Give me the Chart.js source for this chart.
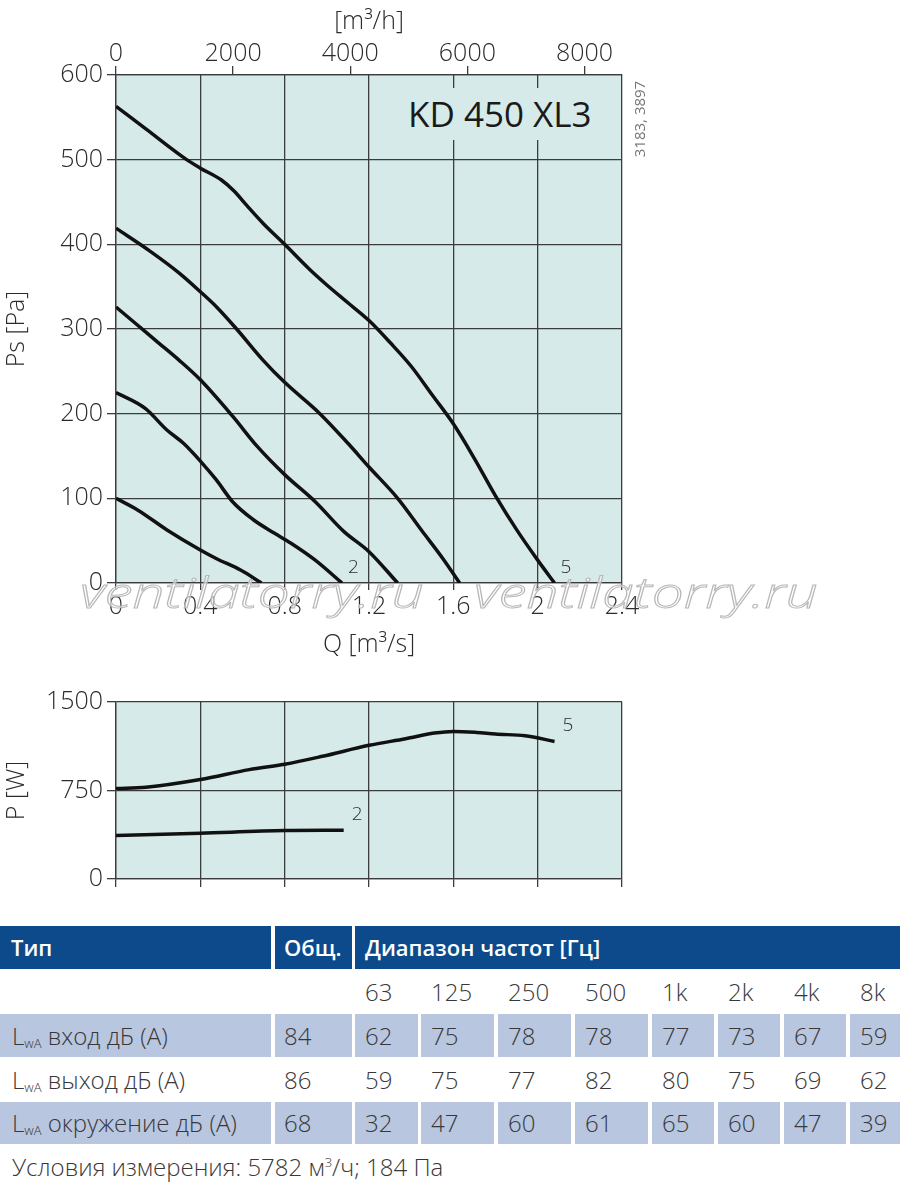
<!DOCTYPE html>
<html>
<head>
<meta charset="utf-8">
<script src="https://cdn.jsdelivr.net/npm/chart.js@4.4.1/dist/chart.umd.min.js"></script>
<style>
body { margin:0; width:900px; height:1185px; background:#fff; position:relative; overflow:hidden;
       font-family:"Open Sans", sans-serif; color:#333; }
.abs { position:absolute; }
#c1 { position:absolute; left:0; top:0; }
#c2 { position:absolute; left:0; top:680px; }
#model { left:398px; top:88px; width:216px; height:52px; background:#d6ebe9; font-size:35px; font-weight:500;
         line-height:52px; color:#1a1a1a; padding-left:10px; box-sizing:border-box; white-space:nowrap; }
#code { left:590px; top:109px; width:98px; height:20px; font-size:15px; line-height:20px; color:#777;
        transform:rotate(-90deg); text-align:center; white-space:nowrap; }
.wm { top:570px; height:43px; line-height:43px; font-size:43px; font-style:italic; font-weight:300;
      color:rgba(255,255,255,0.6); -webkit-text-stroke:1px #b8b8b8; transform:scaleX(1.32);
      transform-origin:left top; white-space:nowrap; }
.cell { position:absolute; box-sizing:border-box; font-size:24px; font-weight:300; color:#383838;
        padding-left:10px; white-space:nowrap; }
.head { background:#0d4a8b; color:#fff; font-weight:600; font-size:22px; }
.shade { background:#b9c6e0; }
sub { font-size:13px; vertical-align:-3px; line-height:0; }
sup { font-size:13px; line-height:0; }
</style>
</head>
<body>
<canvas id="c1" width="680" height="665"></canvas>
<canvas id="c2" width="680" height="220"></canvas>
<div id="model" class="abs">KD 450 XL3</div>
<div id="code" class="abs">3183, 3897</div>
<div class="abs wm" style="left:80px">ventilatorry.ru</div>
<div class="abs wm" style="left:474px">ventilatorry.ru</div>
<div id="table"></div>
<script>
// axis ticks
const qTicks = [0, 0.4, 0.8, 1.2, 1.6, 2, 2.4];
const flowTicks = [0, 2000, 4000, 6000, 8000];
const psTicks = [0, 100, 200, 300, 400, 500, 600];
const powerTicks = [0, 750, 1500];

// static pressure curves, Q [m3/s] -> Ps [Pa]
const ps1Q = [0, 0.104, 0.24, 0.4, 0.475, 0.593, 0.69];
const ps1 = [100, 86, 63, 39, 29, 15, 0];
const ps2Q = [0, 0.14, 0.24, 0.32, 0.4, 0.475, 0.553, 0.65, 0.75, 0.83, 0.945, 1.072];
const ps2 = [225, 206, 181, 165, 144, 122, 96, 75, 59, 47, 27, 0];
const ps3Q = [0, 0.1, 0.2, 0.3, 0.4, 0.553, 0.671, 0.8, 0.945, 1.08, 1.2, 1.336];
const ps3 = [326, 305, 284, 263, 240, 197, 161, 128, 96, 61, 37, 0];
const ps4Q = [0, 0.161, 0.3, 0.4, 0.477, 0.572, 0.698, 0.8, 0.967, 1.1, 1.2, 1.336, 1.45, 1.55, 1.63];
const ps4 = [419, 392, 366, 344, 326, 300, 263, 237, 200, 165, 137, 100, 62, 29, 0];
const ps5Q = [0, 0.143, 0.335, 0.4, 0.5, 0.56, 0.62, 0.697, 0.8, 0.92, 1.0, 1.1, 1.2, 1.3, 1.4, 1.5, 1.6,
              1.7, 1.8, 1.9, 2.0, 2.08];
const ps5 = [563, 536, 500, 490, 476, 463, 446, 425, 400, 370, 352, 331, 310, 284, 256, 222, 188,
             147, 103, 63, 27, 0];

// power curves, Q [m3/s] -> P [W]
const pw2Q = [0, 0.4, 0.8, 1.08];
const pw2 = [368, 388, 410, 413];
const pw5Q = [0, 0.143, 0.4, 0.632, 0.8, 0.98, 1.2, 1.374, 1.51, 1.6, 1.71, 1.8, 1.94, 2.08];
const pw5 = [767, 778, 843, 927, 972, 1040, 1133, 1189, 1237, 1251, 1242, 1228, 1214, 1166];

// sound table
const freqLabels = ['63', '125', '250', '500', '1k', '2k', '4k', '8k'];
const rowNames = ['вход дБ (A)', 'выход дБ (A)', 'окружение дБ (A)'];
const totalLw = [84, 86, 68];
const lwInlet = [62, 75, 78, 78, 77, 73, 67, 59];
const lwOutlet = [59, 75, 77, 82, 80, 75, 69, 62];
const lwSurround = [32, 47, 60, 61, 65, 60, 47, 39];

const GRID = '#3c3c3c';
const TXT = '#2b2b2b';
const tickFont = {family: "'Open Sans', sans-serif", size: 25, weight: 300};
const tagFont = "300 19px 'Open Sans', sans-serif";

function pts(xs, ys) { return xs.map((x, i) => ({x: x, y: ys[i]})); }
function useTicks(vals) { return function(s) { s.ticks = vals.map(v => ({value: v})); }; }
function fmtQ(v) { return String(Number(v.toFixed(1))); }

function curve(xs, ys, tag) {
    return {data: pts(xs, ys), tag: tag, borderColor: '#111', borderWidth: 3.5, pointRadius: 0,
            fill: false, cubicInterpolationMode: 'monotone'};
}

const plotBg = {
    id: 'plotBg',
    beforeDraw(chart) {
        const a = chart.chartArea, ctx = chart.ctx;
        ctx.save();
        ctx.fillStyle = '#d6ebe9';
        ctx.fillRect(a.left, a.top, a.right - a.left, a.bottom - a.top);
        ctx.restore();
    }
};

// small curve numbers next to the end of a curve
const curveTags = {
    id: 'curveTags',
    afterDatasetsDraw(chart, args, opts) {
        const ctx = chart.ctx, xs = chart.scales.x, ys = chart.scales.y;
        ctx.save();
        ctx.font = tagFont;
        ctx.fillStyle = TXT;
        ctx.textBaseline = 'middle';
        chart.data.datasets.forEach(ds => {
            if (!ds.tag) return;
            const last = ds.data[ds.data.length - 1];
            ctx.fillText(ds.tag, xs.getPixelForValue(last.x) + opts.dx, ys.getPixelForValue(last.y) + opts.dy);
        });
        ctx.restore();
    }
};

function gridOpts(extra) {
    return Object.assign({color: GRID, lineWidth: 1.3, tickColor: GRID, tickWidth: 1.3}, extra);
}

Chart.defaults.font.family = "'Open Sans', sans-serif";

new Chart(document.getElementById('c1'), {
    type: 'line',
    data: {datasets: [curve(ps1Q, ps1), curve(ps2Q, ps2, '2'), curve(ps3Q, ps3),
                      curve(ps4Q, ps4), curve(ps5Q, ps5, '5')]},
    options: {
        responsive: false, animation: false, devicePixelRatio: 1,
        layout: {padding: {left: 0, right: 58, top: 0, bottom: 0}},
        plugins: {legend: {display: false}, tooltip: {enabled: false}, curveTags: {dx: 6, dy: -15}},
        scales: {
            x: {type: 'linear', position: 'bottom', min: 0, max: 2.4,
                afterBuildTicks: useTicks(qTicks), afterFit: s => { s.height = 82; },
                grid: gridOpts({tickLength: 7}), border: {color: GRID, width: 1.3},
                ticks: {font: tickFont, color: TXT, padding: 2, maxRotation: 0, callback: v => fmtQ(v)},
                title: {display: true, text: 'Q [m³/s]', font: tickFont, color: TXT, padding: {top: 0, bottom: 5}}},
            xTop: {type: 'linear', position: 'top', axis: 'x', min: 0, max: 8640,
                afterBuildTicks: useTicks(flowTicks), afterFit: s => { s.height = 75; },
                grid: gridOpts({drawOnChartArea: false, tickLength: 9}), border: {color: GRID, width: 1.3},
                ticks: {font: tickFont, color: TXT, padding: -3, maxRotation: 0, callback: v => String(v)},
                title: {display: true, text: '[m³/h]', font: tickFont, color: TXT, padding: {top: 7, bottom: 0}}},
            y: {type: 'linear', position: 'left', min: 0, max: 600,
                afterBuildTicks: useTicks(psTicks), afterFit: s => { s.width = 116; },
                grid: gridOpts({tickLength: 9}), border: {color: GRID, width: 1.3},
                ticks: {font: tickFont, color: TXT, padding: 4, callback: v => String(v)},
                title: {display: true, text: 'Ps [Pa]', font: tickFont, color: TXT, padding: {top: 2, bottom: 0}}}
        }
    },
    plugins: [plotBg, curveTags]
});

new Chart(document.getElementById('c2'), {
    type: 'line',
    data: {datasets: [curve(pw2Q, pw2, '2'), curve(pw5Q, pw5, '5')]},
    options: {
        responsive: false, animation: false, devicePixelRatio: 1,
        layout: {padding: {left: 0, right: 58, top: 22, bottom: 0}},
        plugins: {legend: {display: false}, tooltip: {enabled: false}, curveTags: {dx: 8, dy: -16}},
        scales: {
            x: {type: 'linear', position: 'bottom', min: 0, max: 2.4,
                afterBuildTicks: useTicks(qTicks), afterFit: s => { s.height = 21; },
                grid: gridOpts({tickLength: 8}), border: {color: GRID, width: 1.3},
                ticks: {display: false}},
            y: {type: 'linear', position: 'left', min: 0, max: 1500,
                afterBuildTicks: useTicks(powerTicks), afterFit: s => { s.width = 116; },
                grid: gridOpts({tickLength: 9}), border: {color: GRID, width: 1.3},
                ticks: {font: tickFont, color: TXT, padding: 4, callback: v => String(v)},
                title: {display: true, text: 'P [W]', font: tickFont, color: TXT, padding: {top: 2, bottom: 0}}}
        }
    },
    plugins: [plotBg, curveTags]
});
</script>
<script>
// sound power table, built from the arrays above
(function() {
    const box = document.getElementById('table');
    const cols = [[0, 271], [275, 352], [355, 418], [421, 494], [498, 571], [575, 648],
                  [652, 714], [718, 780], [784, 846], [850, 900]];
    function cell(x0, x1, y0, y1, html, cls, pad) {
        const d = document.createElement('div');
        d.className = 'cell ' + (cls || '');
        d.style.left = x0 + 'px'; d.style.width = (x1 - x0) + 'px';
        d.style.top = y0 + 'px'; d.style.height = (y1 - y0) + 'px';
        d.style.lineHeight = (y1 - y0) + 'px';
        if (pad != null) d.style.paddingLeft = pad + 'px';
        d.innerHTML = html;
        box.appendChild(d);
    }
    cell(0, 271, 926, 969, 'Тип', 'head', 11);
    cell(275, 352, 926, 969, 'Общ.', 'head', 9);
    cell(355, 900, 926, 969, 'Диапазон частот [Гц]', 'head', 10);
    freqLabels.forEach((f, i) => cell(cols[i + 2][0], cols[i + 2][1], 972, 1012, f));
    const rows = [lwInlet, lwOutlet, lwSurround];
    const rowY = [[1014, 1057], [1058, 1101], [1102, 1144]];
    rows.forEach((vals, r) => {
        const cls = r % 2 === 0 ? 'shade' : '';
        const y = rowY[r];
        cell(0, 271, y[0], y[1], 'L<sub>wA</sub> ' + rowNames[r], cls, 12);
        cell(275, 352, y[0], y[1], String(totalLw[r]), cls, 9);
        vals.forEach((v, i) => cell(cols[i + 2][0], cols[i + 2][1], y[0], y[1], String(v), cls));
    });
    cell(0, 900, 1150, 1184, 'Условия измерения: 5782 м<sup>3</sup>/ч; 184 Па', '', 12);
})();
</script>
</body>
</html>
